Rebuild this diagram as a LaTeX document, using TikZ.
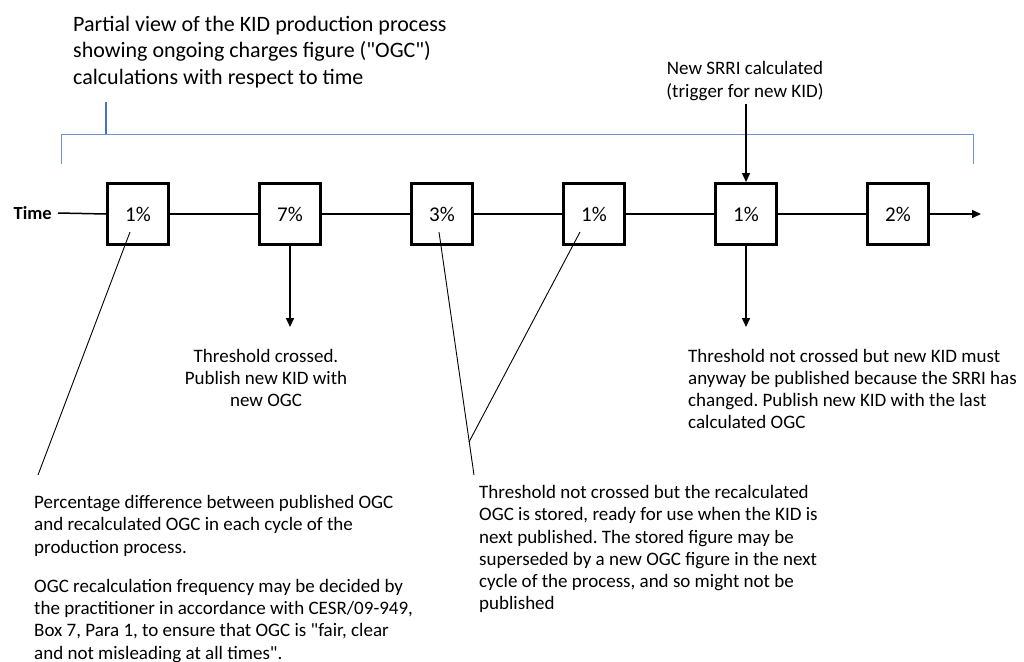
\documentclass[tikz,border=0pt]{standalone}
\usepackage{fontspec}
\setmainfont{Carlito}[Ligatures=TeXOff]
\usetikzlibrary{arrows.meta}
\definecolor{brblue}{RGB}{110,150,205}
\definecolor{tkblue}{RGB}{68,114,196}
\frenchspacing
\begin{document}
\begin{tikzpicture}[x=1pt,y=-1pt,
  box/.style={draw, fill=white, line width=3pt, minimum size=61pt, inner sep=0pt, font=\fontsize{21}{25}\selectfont},
  axis/.style={line width=1.5pt},
  arr/.style={line width=1.5pt, -{Triangle[length=9pt,width=8pt]}},
  pointer/.style={line width=0.9pt},
  body/.style={font=\fontsize{19}{22.3}\selectfont, inner sep=0pt},
  brack/.style={draw=brblue, line width=1pt},
  tick/.style={draw=tkblue, line width=1.5pt}]
\useasboundingbox (0,0) rectangle (1024,661);

% title and bracket
\node[font=\fontsize{22}{26.5}\selectfont, inner sep=0pt, align=left, anchor=west] (title) at (73,52)
  {Partial view of the KID production process\\showing ongoing charges figure ("OGC")\\calculations with respect to time};
\coordinate (tk) at (106,102);
\coordinate (bl) at (61,164);
\coordinate (br) at (973,164);
\coordinate (bt) at (61,134);
\draw[brack] (bl) -- (bt) -- (bt -| br) -- (br);
\draw[tick] (tk) -- (tk |- bt);

% time axis
\node[font=\bfseries\fontsize{18.5}{22}\selectfont, inner sep=0pt, anchor=east] (time) at (52,213) {Time};
\node[box] (b1) at (138,214) {1\%};
\node[box] (b2) at (290,214) {7\%};
\node[box] (b3) at (442,214) {3\%};
\node[box] (b4) at (594,214) {1\%};
\node[box] (b5) at (746,214) {1\%};
\node[box] (b6) at (898,214) {2\%};
\coordinate (end) at (981,214);
\draw[axis] ([xshift=6pt]time.east) -- (b1.west);
\draw[axis] (b1.east) -- (b2.west);
\draw[axis] (b2.east) -- (b3.west);
\draw[axis] (b3.east) -- (b4.west);
\draw[axis] (b4.east) -- (b5.west);
\draw[axis] (b5.east) -- (b6.west);
\draw[arr] (b6.east) -- (end);

% SRRI trigger
\node[body, align=center] (srri) at (745,81) {New SRRI calculated\\(trigger for new KID)};
\draw[arr] ([yshift=-3pt]srri.south -| b5.north) -- (b5.north);

% outputs
\coordinate (a2) at (290,327);
\coordinate (a5) at (746,327);
\draw[arr] (b2.south) -- (a2);
\draw[arr] (b5.south) -- (a5);
\node[body, align=center] (tc) at (266,378) {Threshold crossed.\\Publish new KID with\\new OGC};
\node[body, align=left, anchor=west] (tnc) at (688,389)
  {Threshold not crossed but new KID must\\anyway be published because the SRRI has\\changed. Publish new KID with the last\\calculated OGC};

% notes
\node[body, align=left, anchor=north west] (pd) at (34,495)
  {Percentage difference between published OGC\\and recalculated OGC in each cycle of the\\production process.\\[17pt]OGC recalculation frequency may be decided by\\the practitioner in accordance with CESR/09-949,\\Box 7, Para 1, to ensure that OGC is "fair, clear\\and not misleading at all times".};
\node[body, align=left, anchor=north west] (st) at (479,485)
  {Threshold not crossed but the recalculated\\OGC is stored, ready for use when the KID is\\next published. The stored figure may be\\superseded by a new OGC figure in the next\\cycle of the process, and so might not be\\published};

% pointer lines
\coordinate (p1) at (130,232);
\coordinate (q1) at (38,475);
\coordinate (p3) at (439,232);
\coordinate (q3) at (474,475);
\coordinate (p4) at (580,232);
\coordinate (q4) at (469,442);
\draw[pointer] (p1) -- (q1);
\draw[pointer] (p3) -- (q3);
\draw[pointer] (p4) -- (q4);
\end{tikzpicture}
\end{document}
